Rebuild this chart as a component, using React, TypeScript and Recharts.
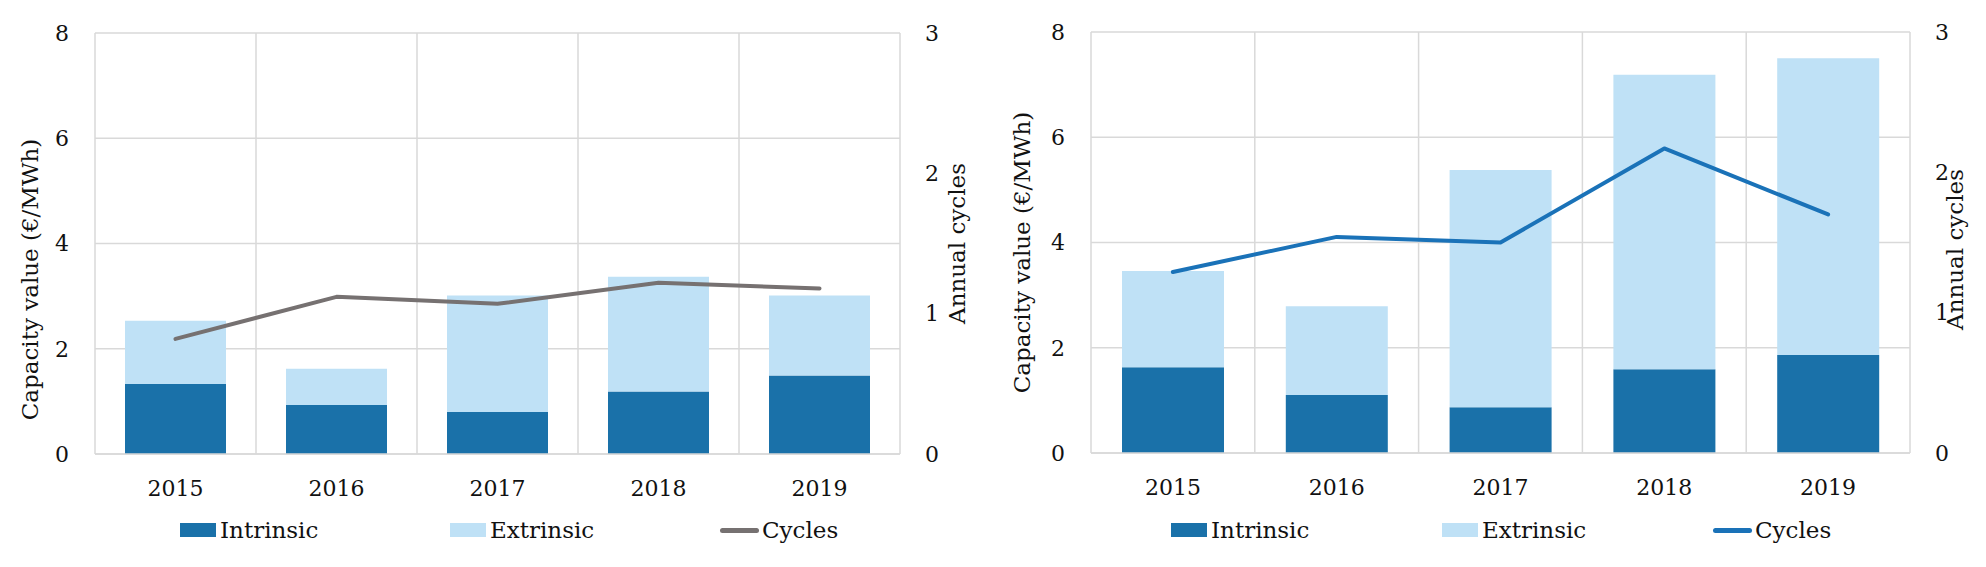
import React from 'react';
import { ComposedChart, Bar, Line, XAxis, YAxis, CartesianGrid, Legend } from 'recharts';

const years = ['2015', '2016', '2017', '2018', '2019'];

const leftIntrinsic = [1.33, 0.93, 0.8, 1.19, 1.49];
const leftExtrinsic = [1.2, 0.69, 2.21, 2.18, 1.52];
const leftCycles = [0.82, 1.12, 1.07, 1.22, 1.18];

const rightIntrinsic = [1.63, 1.1, 0.87, 1.59, 1.86];
const rightExtrinsic = [1.83, 1.69, 4.51, 5.6, 5.64];
const rightCycles = [1.29, 1.54, 1.5, 2.17, 1.7];

const valueTicks = [0, 2, 4, 6, 8];
const cycleTicks = [0, 1, 2, 3];

const seriesNames = ['Intrinsic', 'Extrinsic', 'Cycles'];
const valueAxisTitle = 'Capacity value (€/MWh)';
const cycleAxisTitle = 'Annual cycles';

const FONT = 'DejaVu Serif';
const TEXT = '#111';
const INTRINSIC_COLOR = '#1a71a9';
const EXTRINSIC_COLOR = '#bfe1f6';
const GRID = '#d9d9d9';

type PanelProps = {
  intrinsic: number[];
  extrinsic: number[];
  cycles: number[];
  lineColor: string;
  top: number;
  leftW: number;
  rightW: number;
  xH: number;
  barSize: number;
  capX: number;
  capDy: number;
  cycX: number;
  cycDy: number;
  legendPad: number;
  legendStep: number;
};

const buildData = (a: number[], b: number[], c: number[]) =>
  years.map((y, i) => ({ year: y, intrinsic: a[i], extrinsic: b[i], cycles: c[i] }));

const LegendContent = (props: any) => {
  const { payload, pad, step } = props;
  const items = [...(payload || [])].sort(
    (a: any, b: any) => seriesNames.indexOf(a.value) - seriesNames.indexOf(b.value)
  );
  return (
    <div
      style={{
        display: 'flex',
        alignItems: 'center',
        height: 30,
        paddingLeft: pad,
        fontFamily: FONT,
        fontSize: 23,
        color: TEXT,
      }}
    >
      {items.map((it: any, i: number) => (
        <div
          key={i}
          style={{
            display: 'flex',
            alignItems: 'center',
            width: i < items.length - 1 ? step : 'auto',
            flex: 'none',
          }}
        >
          {it.type === 'line' ? (
            <span
              style={{
                display: 'inline-block',
                width: 39,
                height: 5,
                borderRadius: 3,
                background: it.color,
                marginRight: 3,
              }}
            />
          ) : (
            <span
              style={{
                display: 'inline-block',
                width: 36,
                height: 14,
                background: it.color,
                marginRight: 4,
              }}
            />
          )}
          <span style={{ lineHeight: '30px', whiteSpace: 'nowrap' }}>{it.value}</span>
        </div>
      ))}
    </div>
  );
};

const Panel = (p: PanelProps) => {
  const data = buildData(p.intrinsic, p.extrinsic, p.cycles);
  const W = 993;
  const H = 567;
  const tick = { fontFamily: FONT, fontSize: 22, fill: TEXT };
  return (
    <ComposedChart
      width={W}
      height={H}
      data={data}
      margin={{ top: p.top, right: 0, left: 0, bottom: 22 }}
      style={{ fontFamily: FONT }}
    >
      <CartesianGrid
        yAxisId="v"
        stroke={GRID}
        strokeWidth={1.5}
        verticalCoordinatesGenerator={({ offset }: any) =>
          [0, 1, 2, 3, 4, 5].map((i) => offset.left + (i * offset.width) / 5)
        }
      />
      <XAxis
        dataKey="year"
        height={p.xH}
        tickLine={false}
        axisLine={{ stroke: GRID, strokeWidth: 1.5 }}
        tickSize={0}
        tickMargin={26}
        tick={tick}
        interval={0}
      />
      <YAxis
        yAxisId="v"
        orientation="left"
        width={p.leftW}
        domain={[0, 8]}
        ticks={valueTicks}
        tickLine={false}
        axisLine={false}
        tickSize={0}
        tickMargin={26}
        tick={tick}
        label={{
          content: (lp: any) => {
            const vb = lp.viewBox || { x: 0, y: 0, width: 0, height: 0 };
            const x = vb.x + p.capX;
            const y = vb.y + vb.height / 2 + p.capDy;
            return (
              <text
                x={x}
                y={y}
                transform={`rotate(-90 ${x} ${y})`}
                textAnchor="middle"
                fontFamily={FONT}
                fontSize={23}
                fill={TEXT}
              >
                {valueAxisTitle}
              </text>
            );
          },
        }}
      />
      <YAxis
        yAxisId="c"
        orientation="right"
        width={p.rightW}
        domain={[0, 3]}
        ticks={cycleTicks}
        tickLine={false}
        axisLine={false}
        tickSize={0}
        tickMargin={25}
        tick={tick}
        label={{
          content: (lp: any) => {
            const vb = lp.viewBox || { x: 0, y: 0, width: 0, height: 0 };
            const x = vb.x + p.cycX;
            const y = vb.y + vb.height / 2 + p.cycDy;
            return (
              <text
                x={x}
                y={y}
                transform={`rotate(-90 ${x} ${y})`}
                textAnchor="middle"
                fontFamily={FONT}
                fontSize={23}
                fill={TEXT}
              >
                {cycleAxisTitle}
              </text>
            );
          },
        }}
      />
      <Bar
        yAxisId="v"
        dataKey="intrinsic"
        name={seriesNames[0]}
        stackId="s"
        fill={INTRINSIC_COLOR}
        barSize={p.barSize}
        isAnimationActive={false}
      />
      <Bar
        yAxisId="v"
        dataKey="extrinsic"
        name={seriesNames[1]}
        stackId="s"
        fill={EXTRINSIC_COLOR}
        barSize={p.barSize}
        isAnimationActive={false}
      />
      <Line
        yAxisId="c"
        dataKey="cycles"
        name={seriesNames[2]}
        stroke={p.lineColor}
        strokeWidth={4}
        strokeLinecap="round"
        strokeLinejoin="round"
        dot={false}
        activeDot={false}
        isAnimationActive={false}
      />
      <Legend
        verticalAlign="bottom"
        align="left"
        height={30}
        content={(lp: any) => <LegendContent {...lp} pad={p.legendPad} step={p.legendStep} />}
      />
    </ComposedChart>
  );
};

export default function App() {
  return (
    <div
      style={{
        position: 'absolute',
        left: 0,
        top: 0,
        width: 1986,
        height: 567,
        background: '#fff',
        display: 'flex',
        overflow: 'hidden',
      }}
    >
      <Panel
        intrinsic={leftIntrinsic}
        extrinsic={leftExtrinsic}
        cycles={leftCycles}
        lineColor="#767171"
        top={33}
        leftW={95}
        rightW={93}
        xH={61}
        barSize={101}
        capX={38}
        capDy={36}
        cycX={65}
        cycDy={0}
        legendPad={180}
        legendStep={270}
      />
      <Panel
        intrinsic={rightIntrinsic}
        extrinsic={rightExtrinsic}
        cycles={rightCycles}
        lineColor="#1a72b8"
        top={32}
        leftW={98}
        rightW={76}
        xH={62}
        barSize={102}
        capX={37}
        capDy={10}
        cycX={53}
        cycDy={7}
        legendPad={178}
        legendStep={271}
      />
    </div>
  );
}
